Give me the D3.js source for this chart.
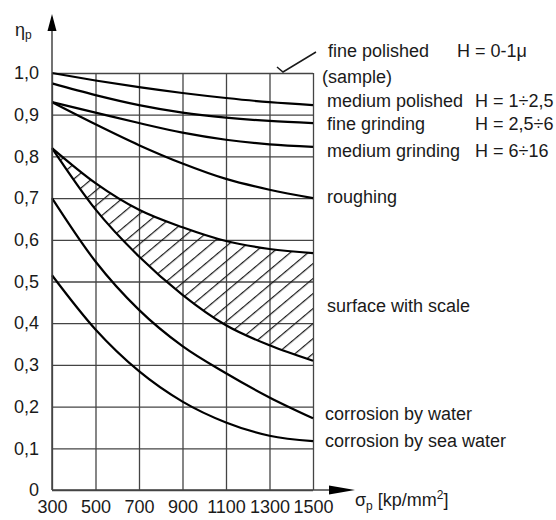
<!DOCTYPE html>
<html><head><meta charset="utf-8">
<script src="https://cdn.jsdelivr.net/npm/d3@7"></script>
<style>
html,body{margin:0;padding:0;background:#fff;}
svg{display:block;font-family:"Liberation Sans",Arial,sans-serif;}
</style></head>
<body><svg id="c" width="556" height="520"></svg>
<script>
// ---- data ----
const sigma = [300, 500, 700, 900, 1100, 1300, 1500];
const xTicks = [300, 500, 700, 900, 1100, 1300, 1500];
const yTicks = [0, 0.1, 0.2, 0.3, 0.4, 0.5, 0.6, 0.7, 0.8, 0.9, 1.0];
const yTickLabels = ["0", "0,1", "0,2", "0,3", "0,4", "0,5", "0,6", "0,7", "0,8", "0,9", "1,0"];
const curveA = [1.0, 0.982, 0.966, 0.952, 0.94, 0.93, 0.923];
const curveB = [0.975, 0.947, 0.923, 0.905, 0.893, 0.885, 0.88];
const curveC = [0.93, 0.905, 0.88, 0.857, 0.84, 0.829, 0.823];
const curveD = [0.93, 0.877, 0.827, 0.783, 0.746, 0.72, 0.70];
const scaleTop = [0.82, 0.736, 0.672, 0.63, 0.597, 0.578, 0.568];
const scaleBottom = [0.82, 0.673, 0.56, 0.468, 0.395, 0.347, 0.31];
const water = [0.70, 0.548, 0.432, 0.345, 0.28, 0.222, 0.172];
const seaWater = [0.515, 0.385, 0.285, 0.212, 0.162, 0.13, 0.117];
const labels = [
  {t: "fine polished", x: 328, y: 57},
  {t: "(sample)", x: 322, y: 83},
  {t: "medium polished", x: 327, y: 107},
  {t: "fine grinding", x: 327, y: 130},
  {t: "medium grinding", x: 327, y: 157},
  {t: "roughing", x: 327, y: 203},
  {t: "surface with scale", x: 327, y: 312},
  {t: "corrosion by water", x: 325, y: 420},
  {t: "corrosion by sea water", x: 325, y: 447}
];
const hLabels = [
  {t: "H = 0-1\u03bc", x: 457, y: 57},
  {t: "H = 1\u00f72,5", x: 475, y: 107},
  {t: "H = 2,5\u00f76", x: 475, y: 130},
  {t: "H = 6\u00f716", x: 475, y: 157}
];

// ---- chart ----
const svg = d3.select("#c");
const x = d3.scaleLinear([300, 1500], [52, 313]);
const y = d3.scaleLinear([0, 1], [490, 73]);
const ink = "#1a1a1a", grid = "#444";

// hatch pattern
const defs = svg.append("defs");
const pat = defs.append("pattern").attr("id", "hatch").attr("patternUnits", "userSpaceOnUse")
  .attr("width", 40).attr("height", 11.5).attr("patternTransform", "rotate(-40)");
pat.append("line").attr("x1", 0).attr("x2", 40).attr("y1", 0.5).attr("y2", 0.5)
  .attr("stroke", ink).attr("stroke-width", 1.2);

// y grid + labels
const gy = svg.append("g").attr("transform", "translate(52,0)")
  .call(d3.axisLeft(y).tickValues(yTicks).tickSize(-(x(1500) - x(300))).tickPadding(13)
    .tickFormat((d, i) => yTickLabels[i]));
gy.select(".domain").remove();
gy.selectAll(".tick line").attr("stroke", grid).attr("stroke-width", 1.3);
gy.selectAll(".tick text").attr("font-size", 18).attr("fill", ink)
  .attr("font-family", "Liberation Sans, Arial, sans-serif");

// x grid + labels
const gx = svg.append("g").attr("transform", "translate(0,490)")
  .call(d3.axisBottom(x).tickValues(xTicks).tickSize(-(y(0) - y(1))).tickPadding(10)
    .tickFormat(d3.format("d")));
gx.select(".domain").remove();
gx.selectAll(".tick line").attr("stroke", grid).attr("stroke-width", 1.3);
gx.selectAll(".tick text").attr("font-size", 18).attr("fill", ink)
  .attr("font-family", "Liberation Sans, Arial, sans-serif");

// hatched area
const pts = sigma.map((s, i) => ({s, top: scaleTop[i], bot: scaleBottom[i]}));
const area = d3.area().x(d => x(d.s)).y0(d => y(d.bot)).y1(d => y(d.top)).curve(d3.curveMonotoneX);
svg.append("path").datum(pts).attr("d", area).attr("fill", "url(#hatch)");

// curves
const line = d3.line().x(d => x(d[0])).y(d => y(d[1])).curve(d3.curveMonotoneX);
[curveA, curveB, curveC, curveD, scaleTop, scaleBottom, water, seaWater].forEach(arr => {
  svg.append("path").datum(sigma.map((s, i) => [s, arr[i]])).attr("d", line)
    .attr("fill", "none").attr("stroke", "#000").attr("stroke-width", 2.2);
});

// axes with arrows
svg.append("line").attr("x1", 52).attr("x2", 52).attr("y1", 490).attr("y2", 20)
  .attr("stroke", grid).attr("stroke-width", 1.5);
svg.append("path").attr("d", "M52,14 L47.5,31 L56.5,31 Z").attr("fill", "#000");
svg.append("line").attr("x1", 52).attr("x2", 348).attr("y1", 490).attr("y2", 490)
  .attr("stroke", grid).attr("stroke-width", 1.5);
svg.append("path").attr("d", "M355,490 L329,485.5 L329,494.5 Z").attr("fill", "#000");

// pointer for fine polished
svg.append("path").attr("d", "M277,67 L283,72 L316,52").attr("fill", "none")
  .attr("stroke", ink).attr("stroke-width", 1.5);

// axis titles
const ty = svg.append("text").attr("x", 15).attr("y", 36).attr("fill", ink).attr("font-size", 18);
ty.append("tspan").text("\u03b7");
ty.append("tspan").attr("font-size", 12).attr("dy", 3).text("p");
const tx = svg.append("text").attr("x", 355).attr("y", 506).attr("fill", ink).attr("font-size", 18);
tx.append("tspan").text("\u03c3");
tx.append("tspan").attr("font-size", 12).attr("dy", 4).text("p");
tx.append("tspan").attr("dy", -4).text(" [kp/mm");
tx.append("tspan").attr("font-size", 12).attr("dy", -7).text("2");
tx.append("tspan").attr("dy", 7).text("]");

// right labels
svg.selectAll("text.lab").data(labels.concat(hLabels)).join("text").attr("class", "lab")
  .attr("x", d => d.x).attr("y", d => d.y).attr("font-size", 18).attr("fill", ink).text(d => d.t);
</script></body></html>
